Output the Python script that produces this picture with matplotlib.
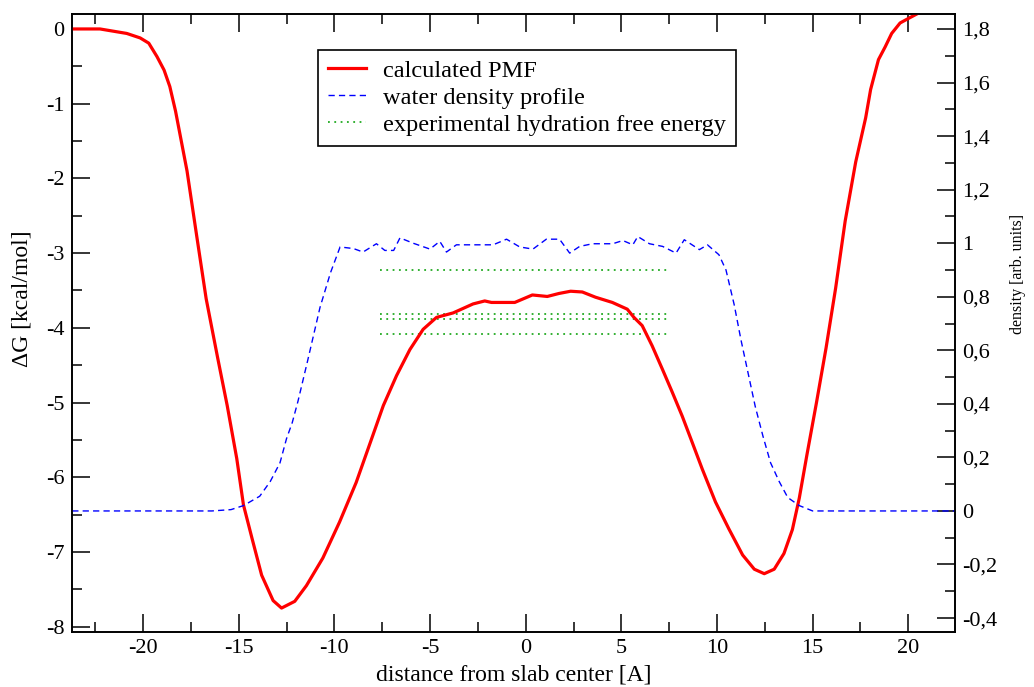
import matplotlib
matplotlib.use("Agg")
import matplotlib.pyplot as plt
from matplotlib.ticker import MultipleLocator, FuncFormatter

plt.rcParams['font.family'] = ['Liberation Serif', 'DejaVu Serif']
plt.rcParams['axes.unicode_minus'] = False

# calculated PMF (kcal/mol) vs distance from slab center (A)
pmf_x = [-23.7, -22.25, -21.55, -20.85, -20.15, -19.7, -19.27, -18.9, -18.6, -18.3,
         -17.7, -17.2, -16.7, -16.1, -15.6, -15.1, -14.75, -14.3, -13.8, -13.2,
         -12.76, -12.07, -11.46, -10.6, -9.73, -8.86, -7.99, -7.44, -6.75, -6.05,
         -5.36, -4.66, -3.79, -2.75, -2.14, -1.79, -0.57, 0.35, 1.13, 1.74,
         2.35, 2.96, 3.65, 4.53, 5.31, 5.66, 6.09, 6.61, 7.14, 7.66,
         8.18, 8.7, 9.23, 9.92, 10.62, 11.34, 11.95, 12.47, 12.99, 13.5,
         13.94, 14.3, 14.7, 15.2, 15.7, 16.2, 16.7, 17.25, 17.77, 18.03,
         18.44, 18.79, 19.13, 19.57, 20.0, 20.44, 20.6]
pmf_y = [0, 0, -0.03, -0.06, -0.12, -0.19, -0.37, -0.55, -0.77, -1.1,
         -1.9, -2.76, -3.61, -4.40, -5.04, -5.75, -6.37, -6.82, -7.31, -7.65,
         -7.75, -7.66, -7.45, -7.08, -6.6, -6.07, -5.44, -5.04, -4.64, -4.29,
         -4.02, -3.86, -3.80, -3.68, -3.64, -3.66, -3.66, -3.56, -3.58, -3.54,
         -3.51, -3.52, -3.59, -3.66, -3.75, -3.86, -3.97, -4.24, -4.55, -4.86,
         -5.18, -5.53, -5.89, -6.33, -6.69, -7.04, -7.23, -7.29, -7.23, -7.02,
         -6.70, -6.28, -5.70, -5.0, -4.27, -3.47, -2.57, -1.78, -1.19, -0.81,
         -0.41, -0.24, -0.06, 0.08, 0.14, 0.2, 0.22]

# water density profile (arb. units)
dens_x = [-23.7, -16.4, -15.4, -14.75, -13.9, -13.35, -12.84, -12.5, -12.2, -11.9,
          -11.4, -10.75, -10.2, -9.7, -9.0, -8.5, -7.8, -7.36, -6.9, -6.57,
          -5.88, -5.0, -4.49, -4.14, -3.62, -2.75, -1.7, -1.0, -0.31, 0.38,
          1.08, 1.77, 2.3, 2.82, 3.5, 4.55, 5.08, 5.6, 5.86, 6.47,
          7.16, 7.86, 8.29, 9.08, 9.5, 10.1, 10.47, 10.9, 11.25, 11.7,
          12.0, 12.4, 12.8, 13.25, 13.7, 14.3, 15.0, 22.44]
dens_y = [0, 0, 0.005, 0.02, 0.055, 0.11, 0.18, 0.27, 0.33, 0.41,
          0.56, 0.76, 0.89, 0.986, 0.98, 0.967, 0.998, 0.973, 0.973, 1.02,
          1.0, 0.978, 1.007, 0.967, 0.994, 0.994, 0.994, 1.015, 0.986, 0.978,
          1.015, 1.015, 0.963, 0.988, 0.998, 0.998, 1.01, 0.994, 1.025, 0.998,
          0.988, 0.963, 1.013, 0.976, 0.994, 0.957, 0.90, 0.77, 0.64, 0.49,
          0.39, 0.28, 0.18, 0.11, 0.05, 0.02, 0, 0]

# experimental hydration free energies (kcal/mol)
exp_dg = [-3.23, -3.81, -3.88, -4.08]
exp_x = [-7.6, 7.5]

fig = plt.figure(figsize=(10.34, 6.87), dpi=100)
ax = fig.add_axes([0.0693, 0.0801, 0.8543, 0.8995])
ax2 = ax.twinx()

l1, = ax.plot(pmf_x, pmf_y, color='red', lw=2.3, label='calculated PMF', zorder=3)
exp_lines = []
for v in exp_dg:
    ln, = ax.plot(exp_x, [v, v], color='#22aa22', lw=1.3, dashes=(1, 2.5))
    exp_lines.append(ln)
l3 = exp_lines[0]
l3.set_label('experimental hydration free energy')
l2, = ax2.plot(dens_x, dens_y, color='blue', lw=1.0, dashes=(4.5, 3),
               label='water density profile')

ax.set_xlim(-23.73, 22.44)
ax.set_ylim(-8.07, 0.2)
ax2.set_ylim(-0.452, 1.856)

ax.xaxis.set_major_locator(MultipleLocator(5))
ax.xaxis.set_minor_locator(MultipleLocator(2.5))
ax.yaxis.set_major_locator(MultipleLocator(1))
ax.yaxis.set_minor_locator(MultipleLocator(0.5))
ax2.yaxis.set_major_locator(MultipleLocator(0.2))
ax2.yaxis.set_minor_locator(MultipleLocator(0.1))


def comma_fmt(v, pos):
    if abs(v) < 1e-9:
        v = 0
    return ('%g' % round(v, 2)).replace('.', ',')


ax2.yaxis.set_major_formatter(FuncFormatter(comma_fmt))

ax.tick_params(axis='both', which='major', direction='in', length=13, width=1.1,
               labelsize=16, pad=5)
ax.tick_params(axis='both', which='minor', direction='in', length=7, width=1.1)
ax.tick_params(axis='x', which='both', top=True)
ax.tick_params(axis='y', which='both', right=False)
ax2.tick_params(axis='y', which='major', direction='in', length=13, width=1.1,
                labelsize=16, pad=5)
ax2.tick_params(axis='y', which='minor', direction='in', length=7, width=1.1)

for a in (ax, ax2):
    for s in a.spines.values():
        s.set_linewidth(1.2)

ax.set_xlabel('distance from slab center [A]', fontsize=17)
ax.xaxis.set_label_coords(0.5, -0.053)
ax.set_ylabel('ΔG [kcal/mol]', fontsize=17, va='center')
ax.yaxis.set_label_coords(-0.056, 0.54)
ax2.set_ylabel('density [arb. units]', fontsize=11.5, va='center', rotation=90)
ax2.yaxis.set_label_coords(1.071, 0.58)

leg = ax2.legend(handles=[l1, l2, l3], loc='upper left', bbox_to_anchor=(0.279, 0.942),
                 borderaxespad=0, fontsize=17.6, handlelength=1.55, handletextpad=0.72,
                 borderpad=0.4, labelspacing=0.2, fancybox=False, framealpha=1,
                 edgecolor='black')
leg.get_frame().set_linewidth(1.2)

fig.savefig('out.png', dpi=100)
